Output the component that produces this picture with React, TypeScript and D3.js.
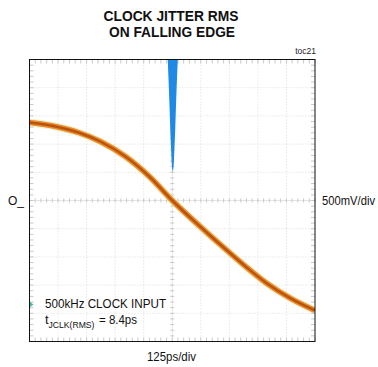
import React from "react";
import * as d3 from "d3";

// Scope settings: 10 horizontal x 10 vertical divisions
const timePerDiv = 125; // ps
const voltPerDiv = 500; // mV
const divisions = 10;

// Falling edge of the output (time in ps, amplitude in mV)
const edgeTime = [-625, -511, -411, -315, -205, -96, 0, 122, 240, 330, 415, 520, 625];
const edgeVolt = [1383, 1312, 1206, 1046, 780, 408, 0, -461, -887, -1200, -1472, -1740, -1950];

// Persistence envelope of the clock input edge (mV level, half-width in ps)
const spikeLevel = [2500, 2100, 1773, 1400, 1064, 800, 620, 500];
const spikeHalfWidth = [22, 18, 15, 12, 9, 6, 4, 0];

// Channel ground marker level (mV)
const markerLevel = -1844;

const title = ["CLOCK JITTER RMS", "ON FALLING EDGE"];

export default function App() {
  const W = 378;
  const H = 367;
  const left = 29.5;
  const right = 315;
  const top = 59.5;
  const bottom = 341.5;

  const half = (divisions / 2);
  const x = d3.scaleLinear().domain([-half * timePerDiv, half * timePerDiv]).range([left, right]);
  const y = d3.scaleLinear().domain([-half * voltPerDiv, half * voltPerDiv]).range([bottom, top]);

  const gridX = d3.range(-half, half + 1).map((d) => d * timePerDiv);
  const gridY = d3.range(-half, half + 1).map((d) => d * voltPerDiv);
  const minorX = d3.range(-half * 5, half * 5 + 1).map((d) => (d * timePerDiv) / 5);
  const minorY = d3.range(-half * 5, half * 5 + 1).map((d) => (d * voltPerDiv) / 5);

  const edgePts: [number, number][] = edgeTime.map((t, i) => [t, edgeVolt[i]]);
  const line = d3
    .line<[number, number]>()
    .x((d) => x(d[0]))
    .y((d) => y(d[1]))
    .curve(d3.curveMonotoneX);
  const edgePath = line(edgePts) || "";

  const spikeArea = d3
    .area<number>()
    .y((_, i) => y(spikeLevel[i]))
    .x0((_, i) => x(-spikeHalfWidth[i]) + 0.5)
    .x1((_, i) => x(spikeHalfWidth[i]) + 0.5)
    .curve(d3.curveMonotoneY);
  const spikePath = spikeArea(spikeLevel) || "";

  const font = "'Liberation Sans', Arial, sans-serif";
  const my = y(markerLevel);

  return (
    <svg
      width={W}
      height={H}
      viewBox={`0 0 ${W} ${H}`}
      style={{ position: "absolute", left: 0, top: 0, background: "#fff" }}
      fontFamily={font}
    >
      <defs>
        <clipPath id="plot">
          <rect x={left} y={top} width={right - left} height={bottom - top} />
        </clipPath>
      </defs>

      <text x={171} y={21} textAnchor="middle" fontSize={15} fontWeight="bold" textLength={135} lengthAdjust="spacingAndGlyphs" fill="#111">
        {title[0]}
      </text>
      <text x={172} y={37} textAnchor="middle" fontSize={15} fontWeight="bold" textLength={126} lengthAdjust="spacingAndGlyphs" fill="#111">
        {title[1]}
      </text>
      <text x={316} y={54} textAnchor="end" fontSize={8.5} fill="#222">toc21</text>

      <rect x={left} y={top} width={right - left} height={bottom - top} fill="#fff" />

      {/* dotted graticule */}
      <g stroke="#d9d9d9" strokeWidth={1} strokeDasharray="1 2">
        {gridX.slice(1, -1).filter((d) => d !== 0).map((d) => (
          <line key={`gx${d}`} x1={x(d)} x2={x(d)} y1={top} y2={bottom} />
        ))}
        {gridY.slice(1, -1).filter((d) => d !== 0).map((d) => (
          <line key={`gy${d}`} y1={y(d)} y2={y(d)} x1={left} x2={right} />
        ))}
      </g>
      {/* center axes with minor ticks */}
      <g stroke="#c8c8c8" strokeWidth={1}>
        <line x1={x(0)} x2={x(0)} y1={top} y2={bottom} strokeDasharray="1 1" />
        <line y1={y(0)} y2={y(0)} x1={left} x2={right} strokeDasharray="1 1" />
        {minorX.map((d) => (
          <line key={`mx${d}`} x1={x(d)} x2={x(d)} y1={y(0) - 2} y2={y(0) + 2} />
        ))}
        {minorY.map((d) => (
          <line key={`my${d}`} y1={y(d)} y2={y(d)} x1={x(0) - 2} x2={x(0) + 2} />
        ))}
        {minorX.map((d) => (
          <line key={`tx${d}`} x1={x(d)} x2={x(d)} y1={top} y2={top + 4} />
        ))}
        {minorX.map((d) => (
          <line key={`bx${d}`} x1={x(d)} x2={x(d)} y1={bottom - 4} y2={bottom} />
        ))}
        {minorY.map((d) => (
          <line key={`ly${d}`} y1={y(d)} y2={y(d)} x1={left} x2={left + 4} />
        ))}
        {minorY.map((d) => (
          <line key={`ry${d}`} y1={y(d)} y2={y(d)} x1={right - 4} x2={right} />
        ))}
      </g>

      <g clipPath="url(#plot)">
        <path d={spikePath} fill="#1e8ae6" />
        <path d={edgePath} fill="none" stroke="#d8ecc0" strokeWidth={8} opacity={0.6} />
        <path d={edgePath} fill="none" stroke="#ee8a26" strokeWidth={5.5} />
        <path d={edgePath} fill="none" stroke="#b8540f" strokeWidth={2.5} />
      </g>

      <path d={`M${left},${my - 3}L${left + 4},${my}L${left},${my + 3}Z`} fill="#3fbfa8" />

      <rect x={left} y={top} width={right - left} height={bottom - top} fill="none" stroke="#111" strokeWidth={1} />

      <text x={8} y={205} fontSize={12} fill="#111">O_</text>
      <text x={322} y={205} fontSize={12} fill="#111" textLength={53} lengthAdjust="spacingAndGlyphs">500mV/div</text>
      <text x={171.5} y={361} textAnchor="middle" fontSize={12.5} fill="#111" textLength={49} lengthAdjust="spacingAndGlyphs">125ps/div</text>

      <text x={45} y={308} fontSize={13} fill="#111" textLength={121} lengthAdjust="spacingAndGlyphs">500kHz CLOCK INPUT</text>
      <text x={45} y={324} fontSize={13} fill="#111">t</text>
      <text x={48.5} y={328} fontSize={9} fill="#111" textLength={46} lengthAdjust="spacingAndGlyphs">JCLK(RMS)</text>
      <text x={99} y={324} fontSize={13} fill="#111" textLength={38} lengthAdjust="spacingAndGlyphs">= 8.4ps</text>
    </svg>
  );
}
